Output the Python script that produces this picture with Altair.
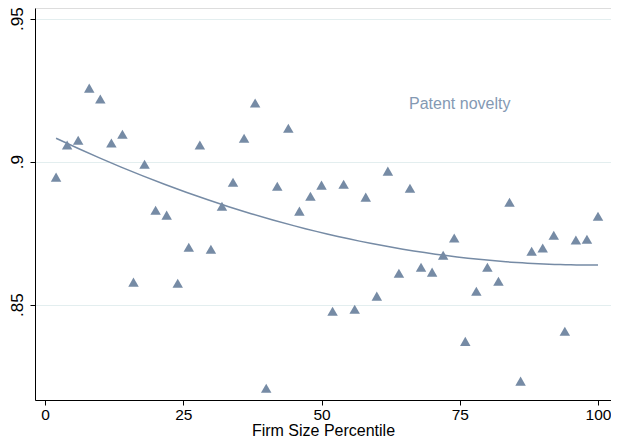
import altair as alt
import pandas as pd

pct = list(range(2, 101, 2))
novelty = [
    0.8946, 0.9058, 0.9075, 0.9257, 0.9219, 0.9065, 0.9096, 0.8579, 0.8991, 0.8830,
    0.8813, 0.8575, 0.8701, 0.9058, 0.8694, 0.8844, 0.8928, 0.9082, 0.9205, 0.8208,
    0.8914, 0.9117, 0.8827, 0.8879, 0.8918, 0.8477, 0.8921, 0.8484, 0.8876, 0.8530,
    0.8967, 0.8610, 0.8907, 0.8631, 0.8614, 0.8673, 0.8733, 0.8372, 0.8547, 0.8631,
    0.8582, 0.8858, 0.8233, 0.8687, 0.8698, 0.8743, 0.8407, 0.8726, 0.8729, 0.8809,
]
label_text = ["Patent novelty"]
label_x = [75]
label_y = [0.9201]

df = pd.DataFrame({"pct": pct, "novelty": novelty})
lab = pd.DataFrame({"t": label_text, "x": label_x, "y": label_y})

COL = "#768ba5"
FONT = "Liberation Sans"

xs = alt.Scale(domain=[-1.81, 102.35], nice=False, zero=False)
ys = alt.Scale(domain=[0.8167, 0.9537], nice=False, zero=False)

xax = alt.Axis(values=[0, 25, 50, 75, 100], grid=False, tickSize=5, labelFontSize=15.5,
               labelPadding=2, titleFontSize=16, titleFont=FONT, labelFont=FONT,
               domainColor="black", tickColor="black", labelColor="black",
               titleColor="black", titleFontWeight="normal",
               titleY=35, titleBaseline="alphabetic")
yax = alt.Axis(values=[0.85, 0.9, 0.95], grid=True, gridColor="#e3eeef", tickSize=5,
               labelFontSize=17, labelAngle=270, labelAlign="center", labelBaseline="bottom",
               labelPadding=4, labelFont=FONT,
               labelExpr="replace(format(datum.value, '.2~f'), '0.', '.')",
               domainColor="black", tickColor="black", labelColor="black", title=None)

pts = alt.Chart(df).mark_point(shape="triangle-up", filled=True, size=110, color=COL,
                               opacity=1).encode(
    x=alt.X("pct:Q", scale=xs, axis=xax, title="Firm Size Percentile"),
    y=alt.Y("novelty:Q", scale=ys, axis=yax),
)

fit = alt.Chart(df).transform_regression(
    "pct", "novelty", method="poly", order=2, extent=[2, 100]
).mark_line(color=COL, strokeWidth=1.5).encode(
    x=alt.X("pct:Q", scale=xs),
    y=alt.Y("novelty:Q", scale=ys),
)

txt = alt.Chart(lab).mark_text(font=FONT, fontSize=16, color="#8499b3").encode(
    x=alt.X("x:Q", scale=xs),
    y=alt.Y("y:Q", scale=ys),
    text="t:N",
)

chart = alt.layer(fit, pts, txt).properties(
    width=576, height=392,
    autosize=alt.AutoSizeParams(type="none"),
    padding={"left": 27, "top": 0, "right": 0, "bottom": 37},
).configure_view(stroke=None).configure(background="white")

chart.save("out.html", embed_options={"renderer": "svg", "actions": False})
